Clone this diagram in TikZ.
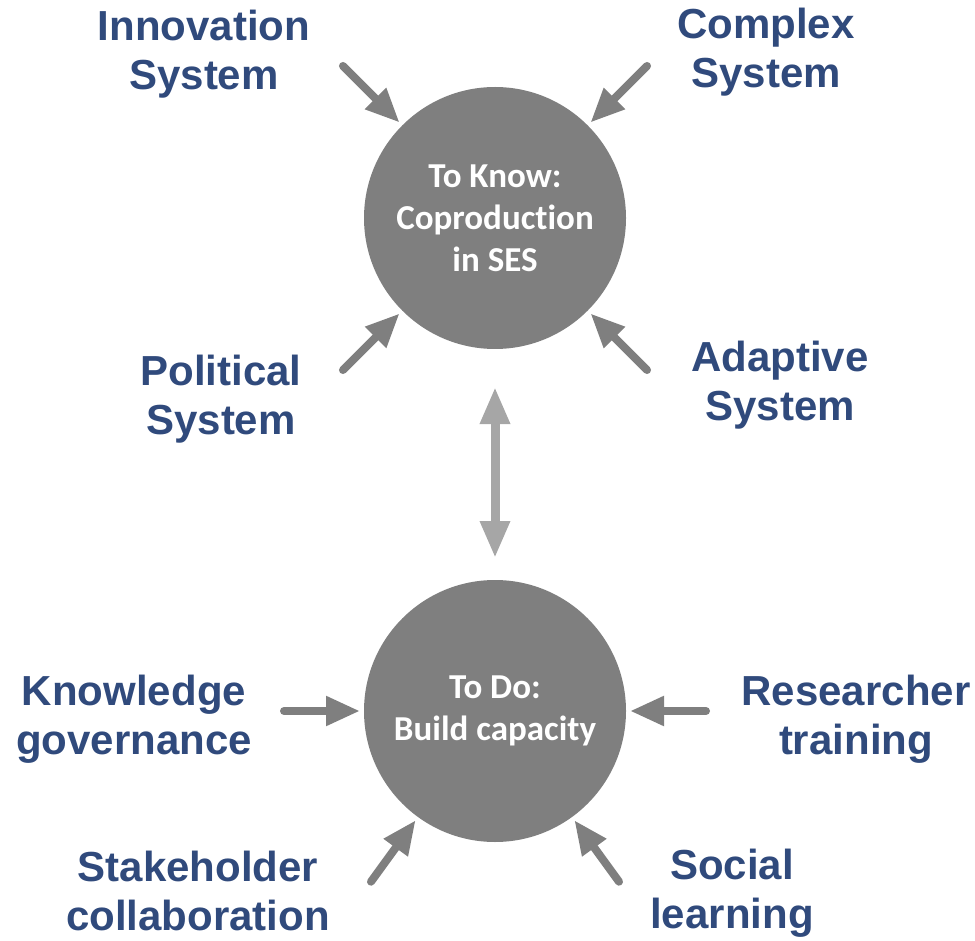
\documentclass[tikz,border=0pt]{standalone}
\usepackage{fontspec}
\setmainfont{Liberation Sans}
\newfontfamily\calibri[Ligatures={NoCommon, NoRare, NoDiscretionary}]{Carlito}
\usetikzlibrary{positioning, arrows.meta}
\definecolor{label-blue}{RGB}{48,74,124}
\definecolor{hub-grey}{RGB}{127,127,127}
\definecolor{link-grey}{RGB}{166,166,166}

\begin{document}
\begin{tikzpicture}[x=1pt, y=1pt, node distance=223pt,
	hub/.style={circle, fill=hub-grey, minimum size=262pt, inner sep=0pt, outer sep=4pt, text=white, align=center, font=\calibri\bfseries\fontsize{35}{42}\selectfont},
	lab/.style={align=center, inner sep=0pt, text=label-blue, font=\bfseries\fontsize{42}{49}\selectfont, execute at begin node=\strut, execute at end node=\strut},
	feed/.style={-{Triangle[width=28pt, length=34pt]}, line width=8pt, line cap=round, hub-grey},
	link/.style={{Triangle[width=28pt, length=37pt]}-{Triangle[width=28pt, length=37pt]}, line width=9pt, link-grey}]
						\useasboundingbox (0,0) rectangle (975,-941);
						\node[hub] (know) at (495,-218) {To Know:\\Coproduction\\in SES};
						\node[hub, below =of know] (do) {To Do:\\Build capacity};
						\node[lab] (innov) at (204,-57) {Innovation\\System};
						\node[lab] (complex) at (766,-55) {Complex\\System};
						\node[lab] (polit) at (221,-402) {Political\\System};
						\node[lab] (adapt) at (780,-388) {Adaptive\\System};
						\node[lab] (knowgov) at (134,-722) {Knowledge\\governance};
						\node[lab] (research) at (856,-722) {Researcher\\training};
						\node[lab] (stake) at (198,-898) {Stakeholder\\collaboration};
						\node[lab] (social) at (732,-896) {Social\\learning};
						% arrow tails
						\foreach \a/\n in {135/1, 45/2, 225/3, 315/4}
							\path (know) ++(\a:215pt) coordinate (k\n);
						\foreach \a/\n in {180/1, 0/2, 234/3, 306/4}
							\path (do) ++(\a:211pt) coordinate (d\n);
						\draw
						(k1) edge[feed] (know)
						(k2) edge[feed] (know)
						(k3) edge[feed] (know)
						(k4) edge[feed] (know)
						(d1) edge[feed] (do)
						(d2) edge[feed] (do)
						(d3) edge[feed] (do)
						(d4) edge[feed] (do)
						(know) edge[link, shorten <=34pt, shorten >=18pt] (do);
					\end{tikzpicture}
\end{document}
